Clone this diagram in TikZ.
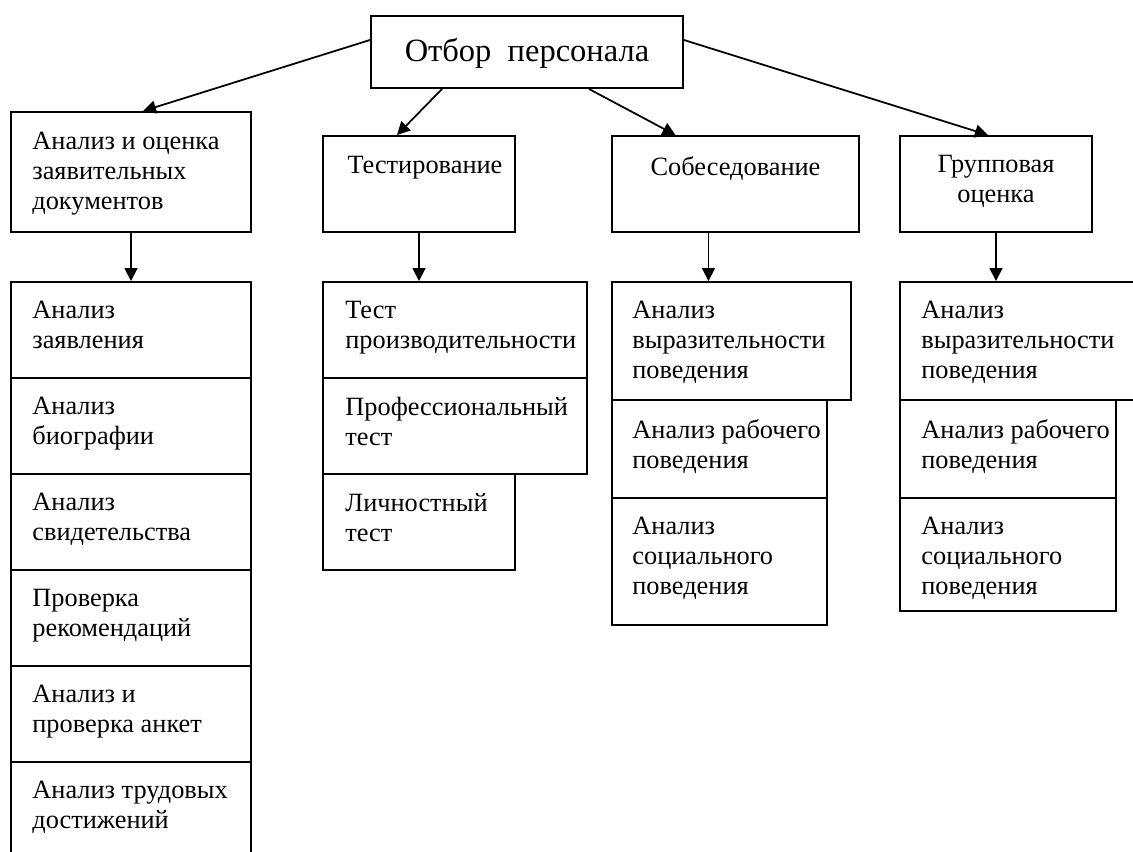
\documentclass[tikz,border=0pt]{standalone}
\usepackage{fontspec}
\setmainfont{Liberation Serif}
\usetikzlibrary{arrows.meta, positioning, calc, fit}

\begin{document}
\begin{tikzpicture}[x=0.02cm, y=-0.02cm,
  box/.style={draw=black, line width=1.1pt, inner sep=0pt},
  txt/.style={anchor=north west, align=left, inner sep=0pt, font=\fontsize{15}{17}\selectfont},
  head/.style={anchor=north, align=center, inner sep=0pt, font=\fontsize{15}{17}\selectfont},
  link/.style={line width=1pt, ->},
  >={Triangle[length=2.6mm, width=2.6mm]}]

% Canvas, same size as the scan
\useasboundingbox (0,0) rectangle (1133,852);
\clip (0,0) rectangle (1133,852);

% Root
\node[box, fit={(371,16) (683,88)}] (top) {};
\node[inner sep=0pt, font=\fontsize{18.5}{21}\selectfont] (top-t) at ($(top.center)+(0,1)$) {Отбор\ \ персонала};

% Second level — four methods
\node[box, fit={(11,112) (251,232)}] (docs) {};
\node[txt] (docs-t) at ($(docs.north west)+(22,21)$) {Анализ и оценка\\заявительных\\документов};

\node[box, fit={(323,136) (515,232)}] (test) {};
\node[head] (test-t) at ($(test.north)+(6,21)$) {Тестирование};

\node[box, fit={(612,136) (859,232)}] (talk) {};
\node[head] (talk-t) at ($(talk.north)+(0,21)$) {Собеседование};

\node[box, fit={(900,136) (1092,232)}] (group) {};
\node[head] (group-t) at ($(group.north)+(0,20)$) {Групповая\\оценка};

% Column under documents — six equal rows, last one runs off the page
\node[box, fit={(11,282) (251,378)}] (d1) {};
\node[txt] (d1-t) at ($(d1.north west)+(22,20)$) {Анализ\\заявления};
\node[box, fit={(11,378) (251,474)}] (d2) {};
\node[txt] (d2-t) at ($(d2.north west)+(22,20)$) {Анализ\\биографии};
\node[box, fit={(11,474) (251,570)}] (d3) {};
\node[txt] (d3-t) at ($(d3.north west)+(22,20)$) {Анализ\\свидетельства};
\node[box, fit={(11,570) (251,666)}] (d4) {};
\node[txt] (d4-t) at ($(d4.north west)+(22,20)$) {Проверка\\рекомендаций};
\node[box, fit={(11,666) (251,762)}] (d5) {};
\node[txt] (d5-t) at ($(d5.north west)+(22,20)$) {Анализ и\\проверка анкет};
\node[box, fit={(11,762) (251,858)}] (d6) {};
\node[txt] (d6-t) at ($(d6.north west)+(22,20)$) {Анализ трудовых\\достижений};

% Column under testing
\node[box, fit={(323,282) (587,378)}] (t1) {};
\node[txt] (t1-t) at ($(t1.north west)+(23,20)$) {Тест\\производительности};
\node[box, fit={(323,378) (587,474)}] (t2) {};
\node[txt] (t2-t) at ($(t2.north west)+(23,20)$) {Профессиональный\\тест};
\node[box, fit={(323,474) (515,570)}] (t3) {};
\node[txt] (t3-t) at ($(t3.north west)+(23,20)$) {Личностный\\тест};

% Column under interview
\node[box, fit={(612,282) (851,400)}] (i1) {};
\node[txt] (i1-t) at ($(i1.north west)+(21,20)$) {Анализ\\выразительности\\поведения};
\node[box, fit={(612,400) (827,498)}] (i2) {};
\node[txt] (i2-t) at ($(i2.north west)+(21,20)$) {Анализ рабочего\\поведения};
\node[box, fit={(612,498) (827,625)}] (i3) {};
\node[txt] (i3-t) at ($(i3.north west)+(21,20)$) {Анализ\\социального\\поведения};

% Column under group assessment (first box cut by the right edge)
\node[box, fit={(900,282) (1139,400)}] (g1) {};
\node[txt] (g1-t) at ($(g1.north west)+(22,20)$) {Анализ\\выразительности\\поведения};
\node[box, fit={(900,400) (1116,498)}] (g2) {};
\node[txt] (g2-t) at ($(g2.north west)+(22,20)$) {Анализ рабочего\\поведения};
\node[box, fit={(900,498) (1116,611)}] (g3) {};
\node[txt] (g3-t) at ($(g3.north west)+(22,20)$) {Анализ\\социального\\поведения};

% Root to methods
\draw[link] ($(top.west)+(0,-12)$) -- ($(docs.north)+(12,0)$);
\draw[link] ($(top.south west)+(72,0)$) -- ($(test.north)+(-22,0)$);
\draw[link] ($(top.south east)+(-95,0)$) -- ($(talk.north)+(-60,0)$);
\draw[link] ($(top.east)+(0,-12)$) -- ($(group.north)+(-8,0)$);

% Methods to their columns
\draw[link] (docs.south) -- (d1.north);
\draw[link] (test.south) -- (test.south |- t1.north);
\coordinate (talk-out) at ($(talk.south)+(-27,0)$);
\draw[link] (talk-out) -- (talk-out |- i1.north);
\draw[link] (group.south) -- (group.south |- g1.north);

\end{tikzpicture}
\end{document}
